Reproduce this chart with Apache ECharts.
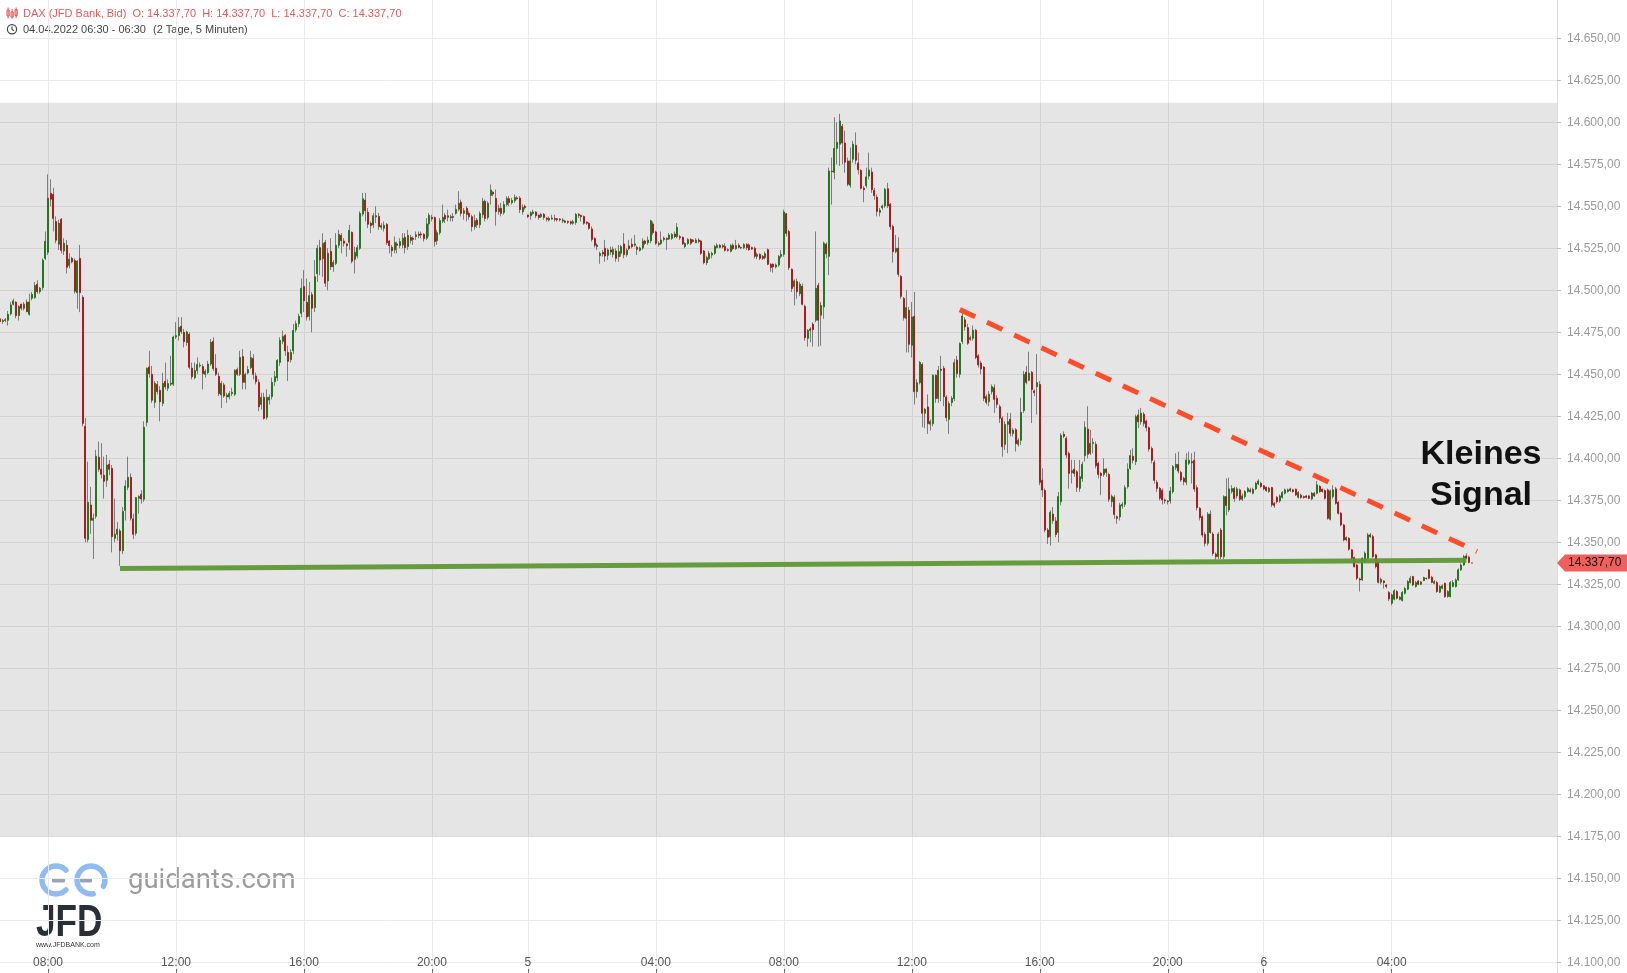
<!DOCTYPE html>
<html>
<head>
<meta charset="utf-8">
<script src="https://cdn.jsdelivr.net/npm/echarts@6/dist/echarts.min.js"></script>
<style>
html,body{margin:0;padding:0;background:#ffffff;}
#chart{width:1627px;height:973px;}
</style>
</head>
<body>
<div id="chart"></div>
<script>
// ---- values (prices are 14000 + value) ----
const BASE = 14000;
const openPts = [
483,481.4,482,482.1,486,491.7,492.9,485,491.7,489.3,
493,485.7,495.2,495.6,503.6,499.2,501.6,519,522.6,557.7,
557.1,540.9,527.4,542.3,523.4,526.8,514.7,519,517.7,498.6,
519,495.8,419,351.6,372.2,363.1,365.5,400.6,393.5,389.9,
386.9,396.4,394,352.4,354.8,356.8,345,369,382.7,388.7,
363.9,355.4,376.2,378.6,375.6,421.4,454.4,450,433.3,444,
440.5,432.7,445.8,441.7,444.1,444.1,472.2,473,478.6,475,
468.9,473.8,453.6,448,452.2,455,454.6,450,451,456.1,
469.6,453.6,448.8,437.7,443.7,436.5,436.5,438.5,438.1,452.8,
450,460.5,445.2,450.8,454,459.5,449,445.2,432.1,436.3,
424.4,434.7,436.7,445.6,448,457.1,469.6,473.2,463,458.7,
464,476.5,480.1,486.3,502.2,492.8,484.5,497.4,489.7,509.9,
525.4,518.8,528.5,505.6,523.2,514,516,526.8,532.7,529.3,
527.6,528.5,534.5,518.4,520.4,525,545.4,553.7,546.4,539.9,
538.9,543.6,544,537.5,536.9,539.3,529.3,525.6,524,527.6,
526.6,527,531.5,526,531.5,531,532,533.5,533.5,533.3,
531,539.5,543.4,543.2,529.5,534.3,541.1,544.6,543.4,543.8,
543.4,545.8,548.2,552.4,545.8,548.8,545.8,543.8,537.9,541.8,
539,545,553,543.4,556.5,558.3,554.7,546.8,548.8,546.2,
551,554.5,552.2,553.3,555,554.9,546.8,550,544.8,544.4,
545.8,546.6,544.8,543.8,545.2,543,541.8,542.4,542.8,542.6,
542.4,541.2,541.2,541,540.8,539.9,540.4,545.2,544.6,544,
540.5,539.9,536.5,530.9,526,520.6,522.6,525,520.8,524,
521.4,523.4,520,522,527.6,521.2,526.4,527.4,526.8,525.6,
523.8,525.2,529.3,528.3,529.5,539.5,534.7,527.2,527.9,530.9,
530.9,530.5,530.9,533.5,531.9,531.9,531.5,526,527.9,530.3,
529.9,528.3,529.9,529.3,523.4,516.4,518.8,521,522,525.4,
526.8,525.8,526.2,524.2,523.2,526.8,524.8,526.8,525.5,525.4,
527.2,527,525.4,525,520.2,521.4,520.2,519.4,524.2,515.5,
515.5,513.9,515.1,520.2,521.4,545.6,535,512.5,502.4,505.2,
498,502.4,490.5,471.4,477,479.8,482.2,503,485.2,490.1,
527.4,520.2,571,570.2,584.5,586.9,597.6,587.7,577,562.5,
578,586.3,575.8,571.4,560.7,562.3,568,570.4,559.5,555.5,
546.4,549.2,550.2,560.5,551.2,537.9,523,525,508.3,495.2,
483.3,488.1,467.3,484.5,439.7,445,455.9,426.8,430.6,420.3,
420.6,449.4,435.7,453,453.6,436.5,423.2,433.2,435.5,458.5,
450,469.5,482.4,477.8,470.8,471.4,476.2,461,456.7,454.3,
436.7,433.7,439.7,442,435.7,430.7,423.8,408.3,420.2,423.2,
414.7,417,408.3,410.7,428.4,451.2,446.4,451.2,440.1,442.6,
444,386.9,380.9,357.3,353.4,366.8,362.7,355.9,374.2,414.3,
411.9,402.8,391.4,393.6,392,382.1,388,401.6,417.4,403,
408.9,408.3,397,391,390.4,393.6,390.4,374.2,376.8,365.2,
365.1,371.6,372.6,383.1,394,401.2,398,425.8,421.8,426.2,
422.2,418.2,405.9,397.6,385.7,382.1,380.9,375.2,374.6,374.6,
380.1,394.4,396.4,391.6,388.1,385.7,397,398,398.8,382.5,
370.2,365.2,354.7,349.4,366.8,354.9,343,341.4,357.3,341.4,
377.2,369.3,380.2,382,377.6,381.2,375.6,377.2,380.2,381.2,
379.2,381.8,384.7,385.1,383.6,382.8,380.2,382.6,373.2,376.8,
374.6,376.8,379.2,380.2,381.8,381.2,381.6,376.8,378,377.2,
377.6,377.6,375.8,379.2,379.2,383.2,381.6,380.8,381.2,363.7,
377.2,381.8,373.8,367.3,360.3,351.4,352.4,345.5,340.9,336.5,
328.2,327.6,338.5,340.5,354.4,353.4,342.5,338.5,326.2,327,
324.6,320.1,313.7,316.1,320.7,316.1,315.3,319.7,322.1,326,
329.6,323.7,327,325,327.2,328.6,333.6,329.2,325.6,326,
320.3,322.7,325.6,317.7,317.7,323.7,323.7,327.6,333.6,336.5,
341.9,341.1,337.7
];
const closePts = [
481.4,482,482.5,485.7,491.3,493.7,484.9,490.3,489.3,491.7,
487.3,493,497.6,502.8,499.2,501.2,517.9,529.2,554.8,554.2,
542.8,529.8,539.9,523.8,528,513.7,518.5,517,499.4,517.3,
498.6,420.8,352.4,373.8,363.1,364.3,401.2,393.5,390.5,386.3,
396,393.5,353.4,354.8,357.8,345,368.4,383.5,388.7,364.3,
354.8,376.6,377.2,375.8,418.5,453.6,450.4,434.5,444.6,439.7,
433.7,444.6,442.5,444.5,444.7,472.2,473,478,475.4,469.4,
475.2,454.2,448.6,452.2,455.8,455.4,450.4,451.8,456.1,469,
453.4,450,438.5,444.6,437.1,437.7,438.5,439.3,452.4,450,
460.1,445.2,450,452.8,459.9,450,445.6,430.7,436.3,423.8,
436.3,436.3,445.2,448.6,458.3,470.2,472.6,464,457.7,463,
476.1,480.1,484.5,501.2,493.8,484.1,496.8,489.3,508.1,525,
518,528,504.2,522,514,516.6,526.8,533.3,529.5,528,
526.6,535.7,517.3,522.6,525.4,545.8,554.5,547.4,539.3,538.5,
544.4,544.4,537.9,538.5,538.7,528.3,526.6,523.6,528.4,526.8,
529,531,525.4,532.7,529.7,530.3,533,532.7,533,530.7,
539.5,544.6,542.6,529.1,534.3,541.5,543.4,542.4,544.4,543.2,
544,548.2,551.8,545.8,547.4,545.2,543.8,537.9,541.4,539,
545.6,553,542.8,551.8,559.7,557.3,546.8,548.8,545.8,551,
554.7,552.2,553.5,555.3,554.5,548,549.4,549.2,543.8,546.2,
546.6,544.4,543.4,545.2,543.4,542.2,542.8,543,542.2,542,
542,541.8,540.5,540.5,539.9,540.8,545.2,544.6,543.8,539.9,
539.9,536.9,530.3,526.8,527,522,521.6,520.4,524,522.8,
524.4,519,523,526,521.2,524,524.8,526,527.6,524.4,
525.2,529.3,527.9,529.9,541.4,534.3,528,528,529.9,530.3,
530.3,532.9,533.3,531.9,537.5,531.3,527.6,527.9,530.3,528,
529.1,529.9,529,522,516.4,519.4,522,522,526,526.8,
525.6,526.6,523.8,523.8,526.6,524.8,526.6,525.6,525.3,527.2,
525.4,524.2,524.6,520.2,521.4,519,519,521.8,515.5,513.5,
513.9,515.1,520.2,521.4,546.6,533.9,513.5,501,505.6,499.2,
503.6,491.7,471.8,476.2,476.2,476.6,501.2,482.2,491,528,
521.8,571,570.6,584.5,588.1,600.8,587.7,576.2,563.1,577,
586.9,577.4,571.8,560.7,559.9,567.5,571.6,559.9,556.3,547,
547.6,550.2,560.1,550.2,537.9,523,525,509.5,496.4,483.7,
489.7,467.9,484.1,439.7,445,457.1,426.8,429.2,420.6,421.9,
449.4,435.5,452.4,452.4,436.7,424.2,432.6,435.7,456.9,450.4,
468.3,484.7,478.2,468.5,471.8,476.2,460,455.6,453.2,435.7,
433.3,438.1,442.6,435.1,432.1,423.8,406.9,420.2,421.8,414.9,
416.8,408.7,410.7,427.4,450,445.2,450.6,440.9,439.1,445,
385.7,381.1,357.3,353,367.8,362.9,354.7,377.2,413.7,413.1,
402,391,392.6,391,382.7,389,396.4,418.5,402.4,408.9,
409.5,395.6,390.4,389.7,393.6,391.6,375.6,377.4,366.6,364.3,
372.2,372.6,382.5,393.6,401.6,398.8,424.8,421.8,426.8,420.8,
418.2,405.5,398.8,386.9,382.1,376.2,375.2,374.6,374.2,380.5,
395,396.4,392.4,387.1,386.1,399,398.8,397.4,381.7,370.6,
364.7,354.3,349.4,366.8,355.9,343.4,341.4,354.9,341.4,377.2,
371.9,381.8,382,376,381.8,375.6,377.6,380.2,382,380.2,
381.6,385.1,386.5,383.2,381.8,380.8,382.2,372.3,371.9,374.2,
377.6,379.6,381.2,381.2,380.8,380.2,378.2,379.6,376.6,376.6,
376.8,376.2,379.2,377.6,384.2,380.2,380.2,376.2,364.3,380.6,
381.2,373.2,367.3,360.3,351.4,352.8,345.9,340.5,335.5,328.6,
327.6,340.5,343.5,354.4,353.4,341.5,335.5,326.2,328,326,
323.7,316.3,318.7,321.1,316.7,317.3,320.1,322.5,326.6,328.6,
324.6,326,325,326.4,329,328.4,328.6,326.2,326.6,320.7,
323.7,324.1,317.7,320.7,326,326,327.6,333.6,336.5,341.5,
340.5,338,337.7
];
const lowPts = [
479.8,480,481,479,485,491,483.3,482,488,488,
487,485,494,495,498,498,500,518,521,550,
535,528,524,522,521,510,513,516,498,489,
487,419,350,350,355,340,364,392,388,376,
383,390,344,350,351,336,343,363,381,363,
352,354,367,373,374,419,448,433,430,438,
422,431,441,440,443,443,471,470,474,466,
467,453,447,447,450,454,441,448,450,455,
452,449,437,430,436,433,435,437,437,449,
449,441,441,450,453,447,444,428,429,423,
423,432,435,443,446,455,468,461,446,457,
462,475,478,484,487,482,482,475,487,505,
509,508,502,500,512,511,515,525,522,526,
520,524,516,510,519,524,544,541,537,534,
537,540,536,536,535,527,522,520,522,522,
525,525,522,524,528,527,530,531,531,529,
530,532,541,526,527,533,540,540,541,541,
541,545,547,544,542,541,542,535,536,537,
537,543,541,542,551,556,538.5,545,544,545,
550,550,551,552,554,546,545,548,543,542,
545,543,542,543,542,541,541,542,541,541,
541,540,540,539.5,539,539,539,543,541,539,
539,536,529,525.5,524,515.8,520,517,518,521,
519.5,517,517,520,519,520,524,525,526,521,
523,524,527,527,528,533,527,526,527,529,
524,530,530,531,531,530,527,525,527,527,
528.5,528,528,521,515.5,515,518,519,521,525,
525,525,523,523,522.5,524,524,525,524.5,524.5,
524,523.5,524,519,518.5,518,518,518.5,515,511,
510.5,513,514,519,520,532,512,499,491,495,
496.5,491,470,466.5,469,466.5,481,466.5,467,483,
519,509,551,566,575,574,575,570,562,561,
576,575,569,560,552.4,561,566,558,554,544,
544,548,549,549,536,516.5,522,508,495,482,
463,463,460,432,436,444,418.5,418,414.5,416.5,
419,433,433,434,431,422,414.5,431,434,448,
448,468,476,467.5,470,470,459,454,450,434,
432,431,438,427,430,421,401,405,403,413,
413,404,407,408,427,444,446,421,437,426,
384,377,356,349,348,361,353,350,372,412,
400,382,385,389,380,380,386,398,400,402,
403,394,388,378,389,389,374,371,364,361,
363,370,371,382,393,397,396,418,420,419,
416,404,397,385,380,375,372.5,373,372.5,373,
379,393,391,386,384,384,396,385,380,369,
363,353,347.5,348,355,342,339.5,340,340,340,
366,368,379,374,376,374.5,374.5,376,379.5,379.5,
378.5,381,384,382.5,381,380,379.5,371,370.5,373,
373.5,376,378.5,379.5,380,379.6,377.5,376,376,376,
376.2,375.6,375,377,378.5,379.5,379.6,375.5,363.5,363,
376,372.5,366.5,359.5,350.5,350.5,345,339.5,335,327.5,
320.7,327,338,340,352.5,340.5,334.5,325.5,325,322.5,
322.5,315,312.5,315.5,316,315.5,314.8,319,321.5,325.5,
324,323,324.5,324.5,326.8,327.8,328,325.6,325,320,
319.8,322,317,317,317.2,323.2,323,327,333,336,
340,337.5,337.7
];
const highPts = [
483.5,483,483.5,487.7,493,495,493.5,491,492,493,
494.5,498,499,505,506,502,519,535,569,566,
561,544,542,543,531,530,522,520,519,518,
527,497,424,398,383,367,405,410,409,401,
402,399,396,376,362,358,371,387,401,391,
367,377,378,381,422,454,464,455,446,446,
443,451,457,447,461,473,481,484,484,477,
476,475,457,457,460,457,456,453,458,471,
472,462,451,446,445,439,440,442,453,454,
464,465,451,455,464,462,451,447,439,439,
441,438,448,452,459,472,476,474,467,465,
480,482,486,507,512,507,505,499,518,527,
530,534,530,525,531,518,534,536,534,531,
528,539,535,526,527,547,558,558,549,541,
546,550,546,540,541,540,530,527,532,529,
531,534,534,536,533,532,535,535,535,534,
543,546,545,544,536,543,551,546,548,545,
546,551,559,554,549,550,547,545,545,543,
547,555,554,553,563,559,560,551,552,553,
556,556,555,557,556,556,551,551,545,547,
548,547,545,546,546,543.5,544,545,545,543,
543,543,542,541.5,541.5,542,546,546,545,544.5,
541,540.5,538,531.5,528,523,524,530,525,526,
526,525,527,527,534,525,530,531,533,526.5,
526,531,530,532,542,541,535.5,529,535,532,
531.5,534,534,535,540,533,532,528.5,531,531,
530.5,531,531,530,524,520.5,523.5,523,527,528,
527.5,527.5,528,525,527.5,528,530,528,526,528,
528,528,526,526,522.5,522,521,523,525,516,
516,516,521,524,548,546,536,513,506.5,507,
505,504,491.5,477,478,481,535,504.5,493,529,
528.5,573,579,603,600,605,599,595,579,585,
589,594,582,572,562,573,582,573,561,557,
549,551,561,564,552,539,533,531.5,509,496,
500,490,493,499,447,458,457,430,438,423,
450,450,455,461,455,437.5,434,437,459,461,
469,487,484,480,473,479,477,462,458,455,
438,440,444,444,437.5,432,425,422,427,427,
418,418,412,436,452,455,463.5,452,441,462,
446,394,382,358.5,369,371,365,380,415,416,
413,404,399,399,393,399,398,422,431,417,
412,410,398,392,400,394,391.5,378.5,378,366,
373.5,374,384,397,405,406,426,429,430,427.5,
423,419,407,399,387,383,382,376,375,383,
396,403,404,392.5,389,403,404,403,404,384,
371,366,356,368,369,356,344,356,358.5,378,
388,388.5,384,383,383,382,379,381,383,382.5,
382.5,386,387.5,386,384,383,383,383,374,377.5,
378.5,380.5,382,382,382.5,381.8,382,380.5,379,377.8,
378,378,380,380,386.5,384,382,381.5,382,381.5,
384,383,374.5,368,361,353.5,353,346,341.5,337,
329,341,344.5,355.5,355.5,354.5,343,339,329,327.5,
325,321,319.5,322,321.5,318,321,323.5,327.5,330,
330,327,327.5,327,329.5,329,334,330,327.5,327,
324.5,325,326,321.5,327,327.5,328.5,334.5,337.5,342.5,
343.5,342,337.7
];

// ---- axis / session definitions ----
const sessionDays = ['4', '5', '6'];
const sessionFirstSlot = ['06:30', '00:00', '00:00'];
const sessionLastSlot = ['22:55', '22:55', '09:10'];   // day 6 includes empty future slots
const xLabelTimes = ['04:00', '08:00', '12:00', '16:00', '20:00'];
const yMin = 14075, yMax = 14675, yStep = 25;

// ---- annotations ----
const lastPrice = 14337.70;
const bandRange = [14174.8, 14611.7];
const supportLine = [[45, 14334.4], [550, 14339.3]];
const trendLine = [[360, 14488.5], [554, 14344.5]];
const titleText = 'DAX (JFD Bank, Bid)';
const periodText = '04.04.2022 06:30 - 06:30';
const spanText = '(2 Tage, 5 Minuten)';
const signalText = ['Kleines', 'Signal'];

// ---- helpers ----
function fmtDE(v, dec) {
  const s = Number(v).toFixed(dec);
  let parts = s.split('.');
  let ip = parts[0].replace(/\B(?=(\d{3})+(?!\d))/g, '.');
  return parts[1] ? ip + ',' + parts[1] : ip;
}
function toMin(t) { const p = t.split(':'); return (+p[0]) * 60 + (+p[1]); }
const cats = [];
sessionDays.forEach(function (d, k) {
  for (let m = toMin(sessionFirstSlot[k]); m <= toMin(sessionLastSlot[k]); m += 5) {
    const hh = String(Math.floor(m / 60)).padStart(2, '0');
    const mm = String(m % 60).padStart(2, '0');
    cats.push(d + ' ' + hh + ':' + mm);
  }
});
const lastDataIndex = openPts.length - 1;
function labelOf(cat) {
  const p = cat.split(' ');
  if (p[1] === '00:00') return p[0];
  if (xLabelTimes.indexOf(p[1]) >= 0) return p[1];
  return null;
}
const showAt = function (idx, val) { return idx <= lastDataIndex && labelOf(val) !== null; };

const ohlc = openPts.map(function (o, i) {
  return [BASE + o, BASE + closePts[i], BASE + lowPts[i], BASE + highPts[i]];
});
const bodies = ohlc.map(function (d) {
  return [d[0], d[1], Math.min(d[0], d[1]), Math.max(d[0], d[1])];
});

const FONT = '"Liberation Sans", Arial, sans-serif';
const chart = echarts.init(document.getElementById('chart'), null, {renderer: 'canvas', width: 1627, height: 973});

const option = {
  animation: false,
  backgroundColor: '#ffffff',
  textStyle: {fontFamily: FONT},
  grid: [
    {left: 0, right: 70, top: -3.7, bottom: -31.3, outerBoundsMode: 'none', containLabel: false},
    {left: 0, right: 70, top: 0, bottom: 0, outerBoundsMode: 'none', containLabel: false}
  ],
  xAxis: [
    {type: 'category', gridIndex: 0, data: cats, boundaryGap: false,
     axisLine: {show: false}, axisTick: {show: false}, axisLabel: {show: false}, splitLine: {show: false}},
    {type: 'category', gridIndex: 1, data: cats, boundaryGap: false, position: 'bottom',
     axisLine: {show: false},
     axisTick: {show: true, inside: true, length: 4, interval: showAt, lineStyle: {color: '#666'}},
     axisLabel: {show: true, inside: true, margin: 4, interval: showAt, color: '#555', fontSize: 12,
                 formatter: function (v) { return labelOf(v) || ''; }},
     splitLine: {show: true, interval: showAt, lineStyle: {color: '#ebebeb', width: 1}}}
  ],
  yAxis: [
    {type: 'value', gridIndex: 0, position: 'right', min: yMin, max: yMax, interval: yStep,
     axisLine: {show: true, lineStyle: {color: '#dedede'}},
     axisTick: {show: true, length: 4, lineStyle: {color: '#bdbdbd'}},
     axisLabel: {color: '#9a9a9a', fontSize: 12, margin: 10, showMinLabel: false, showMaxLabel: false,
                 formatter: function (v) { return fmtDE(v, 2); }},
     splitLine: {show: true, lineStyle: {color: '#ebebeb', width: 1}}},
    {type: 'value', gridIndex: 1, show: false, min: 0, max: 1, splitLine: {show: false}}
  ],
  series: [
    {type: 'candlestick', name: 'wicks', xAxisIndex: 0, yAxisIndex: 0, data: ohlc,
     barWidth: 0.4, large: false, silent: true, z: 2,
     itemStyle: {color: '#7d7d7d', color0: '#7d7d7d', borderColor: '#7d7d7d', borderColor0: '#7d7d7d', borderWidth: 1},
     markArea: {silent: true, itemStyle: {color: 'rgba(0,0,0,0.1)'},
                data: [[{yAxis: bandRange[1]}, {yAxis: bandRange[0]}]]}},
    {type: 'candlestick', name: 'bodies', xAxisIndex: 0, yAxisIndex: 0, data: bodies,
     barWidth: 1.5, large: false, silent: true, z: 3,
     itemStyle: {color: '#3da53a', color0: '#dd3232', borderColor: '#24761f', borderColor0: '#a81d1d', borderWidth: 1}},
    {type: 'line', name: 'support', xAxisIndex: 0, yAxisIndex: 0, data: supportLine, symbol: 'none', silent: true, z: 4,
     lineStyle: {color: 'rgba(92,150,48,0.92)', width: 5, cap: 'butt'}},
    {type: 'line', name: 'trend', xAxisIndex: 0, yAxisIndex: 0, data: trendLine, symbol: 'none', silent: true, z: 5,
     lineStyle: {color: '#ff4d2a', width: 5, type: [17, 13], cap: 'butt'}}
  ],
  graphic: []
};
chart.setOption(option);

// ---- overlay graphics (header, logo, annotation text, last-price tag) ----
const yLast = chart.convertToPixel({yAxisIndex: 0}, lastPrice);
const red = '#ee5757';
const headerLine = titleText + '  O: ' + fmtDE(lastPrice, 2) + '  H: ' + fmtDE(lastPrice, 2) +
  '  L: ' + fmtDE(lastPrice, 2) + '  C: ' + fmtDE(lastPrice, 2);
const g = [
  // candle icon
  {type: 'rect', shape: {x: 7, y: 10, width: 2.2, height: 6}, style: {fill: 'none', stroke: red, lineWidth: 1}},
  {type: 'line', shape: {x1: 8.1, y1: 7.5, x2: 8.1, y2: 18.5}, style: {stroke: red, lineWidth: 1}},
  {type: 'rect', shape: {x: 11, y: 12, width: 2.2, height: 5}, style: {fill: 'none', stroke: red, lineWidth: 1}},
  {type: 'line', shape: {x1: 12.1, y1: 9, x2: 12.1, y2: 19}, style: {stroke: red, lineWidth: 1}},
  {type: 'rect', shape: {x: 15, y: 9.5, width: 2.2, height: 6}, style: {fill: 'none', stroke: red, lineWidth: 1}},
  {type: 'line', shape: {x1: 16.1, y1: 7.5, x2: 16.1, y2: 18}, style: {stroke: red, lineWidth: 1}},
  {type: 'text', x: 23, y: 13.5, style: {text: headerLine, fill: red, font: '11px ' + FONT, verticalAlign: 'middle'}},
  // clock icon
  {type: 'circle', shape: {cx: 12, cy: 29.3, r: 4.6}, style: {fill: 'none', stroke: '#444', lineWidth: 1.2}},
  {type: 'polyline', shape: {points: [[12, 26.5], [12, 29.5], [14, 30.8]]}, style: {fill: 'none', stroke: '#444', lineWidth: 1.1}},
  {type: 'text', x: 23, y: 29.5, style: {text: periodText, fill: '#444', font: '11px ' + FONT, verticalAlign: 'middle'}},
  {type: 'text', x: 153, y: 29.5, style: {text: spanText, fill: '#444', font: '11px ' + FONT, verticalAlign: 'middle'}},
  // annotation
  {type: 'text', x: 1481, y: 455, z: 50, style: {text: signalText[0], fill: '#111', font: 'bold 34px ' + FONT, align: 'center', verticalAlign: 'middle'}},
  {type: 'text', x: 1481, y: 496, z: 50, style: {text: signalText[1], fill: '#111', font: 'bold 34px ' + FONT, align: 'center', verticalAlign: 'middle'}},
  // last price tag
  {type: 'polygon', z: 60, shape: {points: [[1557, yLast], [1565, yLast - 8.5], [1627, yLast - 8.5], [1627, yLast + 8.5], [1565, yLast + 8.5]]},
   style: {fill: '#ef605d'}},
  {type: 'text', z: 61, x: 1568, y: yLast, style: {text: fmtDE(lastPrice, 2), fill: '#111', font: '12px ' + FONT, verticalAlign: 'middle'}},
  // logo
  {type: 'arc', shape: {cx: 56, cy: 880, r: 14, startAngle: Math.PI * 0.25, endAngle: Math.PI * 1.75, clockwise: true},
   style: {fill: 'none', stroke: '#8fbaf3', lineWidth: 5.5, lineCap: 'round'}},
  {type: 'arc', shape: {cx: 91, cy: 880, r: 14, startAngle: Math.PI * 0.45, endAngle: Math.PI * 2.15, clockwise: true},
   style: {fill: 'none', stroke: '#8fbaf3', lineWidth: 5.5, lineCap: 'round'}},
  {type: 'rect', shape: {x: 52, y: 878, width: 13, height: 4.5, r: 1}, style: {fill: '#9aa4b0'}},
  {type: 'rect', shape: {x: 80, y: 878, width: 12, height: 4.5, r: 1}, style: {fill: '#9aa4b0'}},
  {type: 'text', x: 128, y: 881, style: {text: 'guidants.com', fill: '#9c9c9c', font: '27.5px Roboto, ' + FONT, verticalAlign: 'middle'}},
  {type: 'text', x: 36, y: 924, scaleX: 0.8, style: {text: 'JFD', fill: '#2a2e35', font: 'bold 44px ' + FONT, verticalAlign: 'middle'}},
  {type: 'text', x: 36, y: 945, style: {text: 'www.JFDBANK.com', fill: '#333', font: '7px ' + FONT, verticalAlign: 'middle'}}
];
chart.setOption({graphic: g});
</script>
</body>
</html>
